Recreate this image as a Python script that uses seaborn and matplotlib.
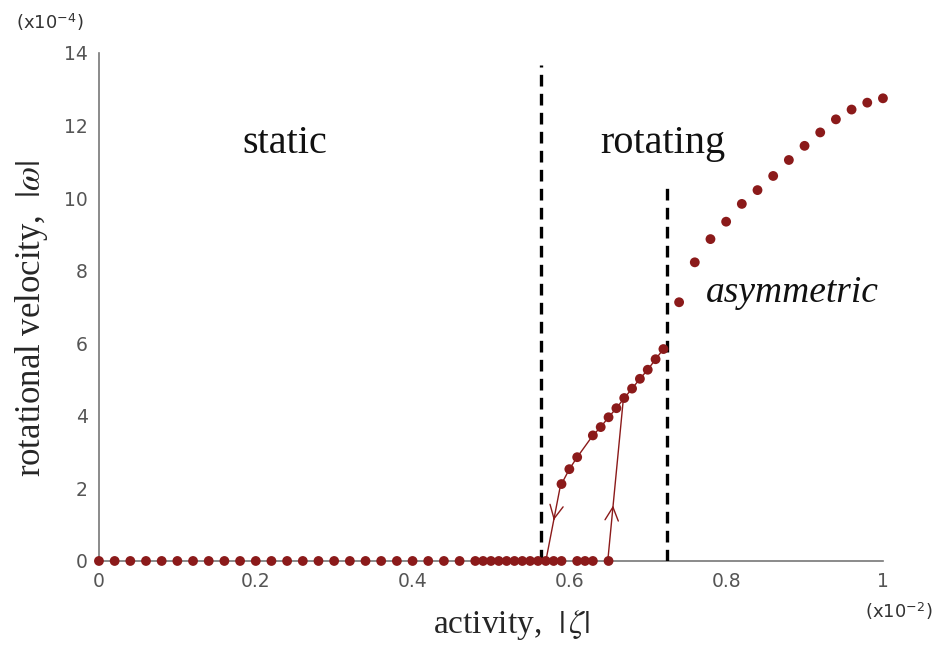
import numpy as np
import pandas as pd
import matplotlib
matplotlib.use('Agg')
import matplotlib.pyplot as plt
import seaborn as sns

# ---- data (activity in 1e-2, |omega| in 1e-4) ----
static_x = [0.00, 0.02, 0.04, 0.06, 0.08, 0.10, 0.12, 0.14, 0.16, 0.18, 0.20, 0.22,
            0.24, 0.26, 0.28, 0.30, 0.32, 0.34, 0.36, 0.38, 0.40, 0.42, 0.44, 0.46,
            0.48, 0.49, 0.50, 0.51, 0.52, 0.53, 0.54, 0.55, 0.56, 0.57, 0.58, 0.59,
            0.61, 0.62, 0.63, 0.65]
static_y = [0.0] * len(static_x)

rot_x = [0.59, 0.60, 0.61, 0.63, 0.64, 0.65, 0.66, 0.67, 0.68, 0.69, 0.70, 0.71, 0.72]
rot_y = [2.12, 2.53, 2.86, 3.46, 3.69, 3.96, 4.21, 4.49, 4.75, 5.02, 5.27, 5.56, 5.84]

asym_x = [0.74, 0.76, 0.78, 0.80, 0.82, 0.84, 0.86, 0.88, 0.90, 0.92, 0.94, 0.96, 0.98, 1.00]
asym_y = [7.13, 8.23, 8.87, 9.35, 9.84, 10.22, 10.61, 11.05, 11.44, 11.81, 12.17, 12.44, 12.63, 12.75]

# hysteresis jumps (from, to)
jump_down = ([0.589, 0.570], [2.12, 0.0])
jump_up = ([0.649, 0.669], [0.0, 4.49])

# phase boundaries: x, top
bound_x = [0.564, 0.724]
bound_top = [13.66, 10.33]

red = '#8b1a1a'
grey = '#777777'

sns.set_style('white')
plt.rcParams['mathtext.fontset'] = 'stix'

fig = plt.figure(figsize=(9.38, 6.48), dpi=100)
ax = fig.add_axes([0.1055, 0.1343, 0.8358, 0.784])

# rotating branch line + jumps
sns.lineplot(x=rot_x, y=rot_y, ax=ax, color=red, lw=1.0, sort=False)
sns.lineplot(x=jump_down[0], y=jump_down[1], ax=ax, color=red, lw=1.0, sort=False)
sns.lineplot(x=jump_up[0], y=jump_up[1], ax=ax, color=red, lw=1.0, sort=False)

# arrow heads on the jump lines
def head(xs, ys, frac, ax):
    x0 = xs[0] + (xs[1] - xs[0]) * (frac - 0.02)
    y0 = ys[0] + (ys[1] - ys[0]) * (frac - 0.02)
    x1 = xs[0] + (xs[1] - xs[0]) * frac
    y1 = ys[0] + (ys[1] - ys[0]) * frac
    ax.annotate('', xy=(x1, y1), xytext=(x0, y0),
                arrowprops=dict(arrowstyle='->', color=red, lw=1.0,
                                mutation_scale=24, shrinkA=0, shrinkB=0))

head(jump_down[0], jump_down[1], 0.47, ax)
head(jump_up[0], jump_up[1], 0.34, ax)

# dashed phase boundaries
for bx, bt in zip(bound_x, bound_top):
    ax.plot([bx, bx], [0, bt], color='black', lw=2.4, ls=(0, (3.5, 2.2)), zorder=4)

# points
for xs, ys in [(static_x, static_y), (rot_x, rot_y), (asym_x, asym_y)]:
    sns.scatterplot(x=xs, y=ys, ax=ax, color=red, s=50, edgecolor='none',
                    zorder=5, clip_on=False)

ax.set_xlim(0, 1)
ax.set_ylim(0, 14)
ax.set_xticks([0, 0.2, 0.4, 0.6, 0.8, 1.0])
ax.set_xticklabels(['0', '0.2', '0.4', '0.6', '0.8', '1'])
ax.set_yticks(range(0, 15, 2))
ax.tick_params(direction='in', length=4, width=1, color=grey, labelcolor='#555555',
               labelsize=13.5, pad=8)
for s in ['top', 'right']:
    ax.spines[s].set_visible(False)
for s in ['left', 'bottom']:
    ax.spines[s].set_color(grey)
    ax.spines[s].set_linewidth(1.2)

ax.set_xlabel(r'activity,  $|\,\zeta|$', family='Liberation Serif', fontsize=24)
ax.set_ylabel(r'rotational velocity,  $|\omega|$', family='Liberation Serif', fontsize=25)
ax.xaxis.set_label_coords(0.527, -0.126)
ax.xaxis.label.set_va('center')
ax.yaxis.set_label_coords(-0.086, 0.478)
ax.yaxis.label.set_va('center')

ax.text(0.237, 11.5, 'static', family='Liberation Serif', fontsize=29, ha='center', va='center',
        color='#111111')
ax.text(0.719, 11.5, 'rotating', family='Liberation Serif', fontsize=29, ha='center', va='center',
        color='#111111')
ax.text(0.885, 7.38, 'asymmetric', family='Liberation Serif', style='italic', fontsize=27,
        ha='center', va='center', color='#111111')

fig.text(0.017, 0.966, r'(x10$^{\mathregular{-4}}$)', fontsize=13, color='#333333',
         family='DejaVu Sans', ha='left', va='center')
fig.text(0.994, 0.056, r'(x10$^{\mathregular{-2}}$)', fontsize=13, color='#333333',
         family='DejaVu Sans', ha='right', va='center')

fig.savefig('out.png', dpi=100)
